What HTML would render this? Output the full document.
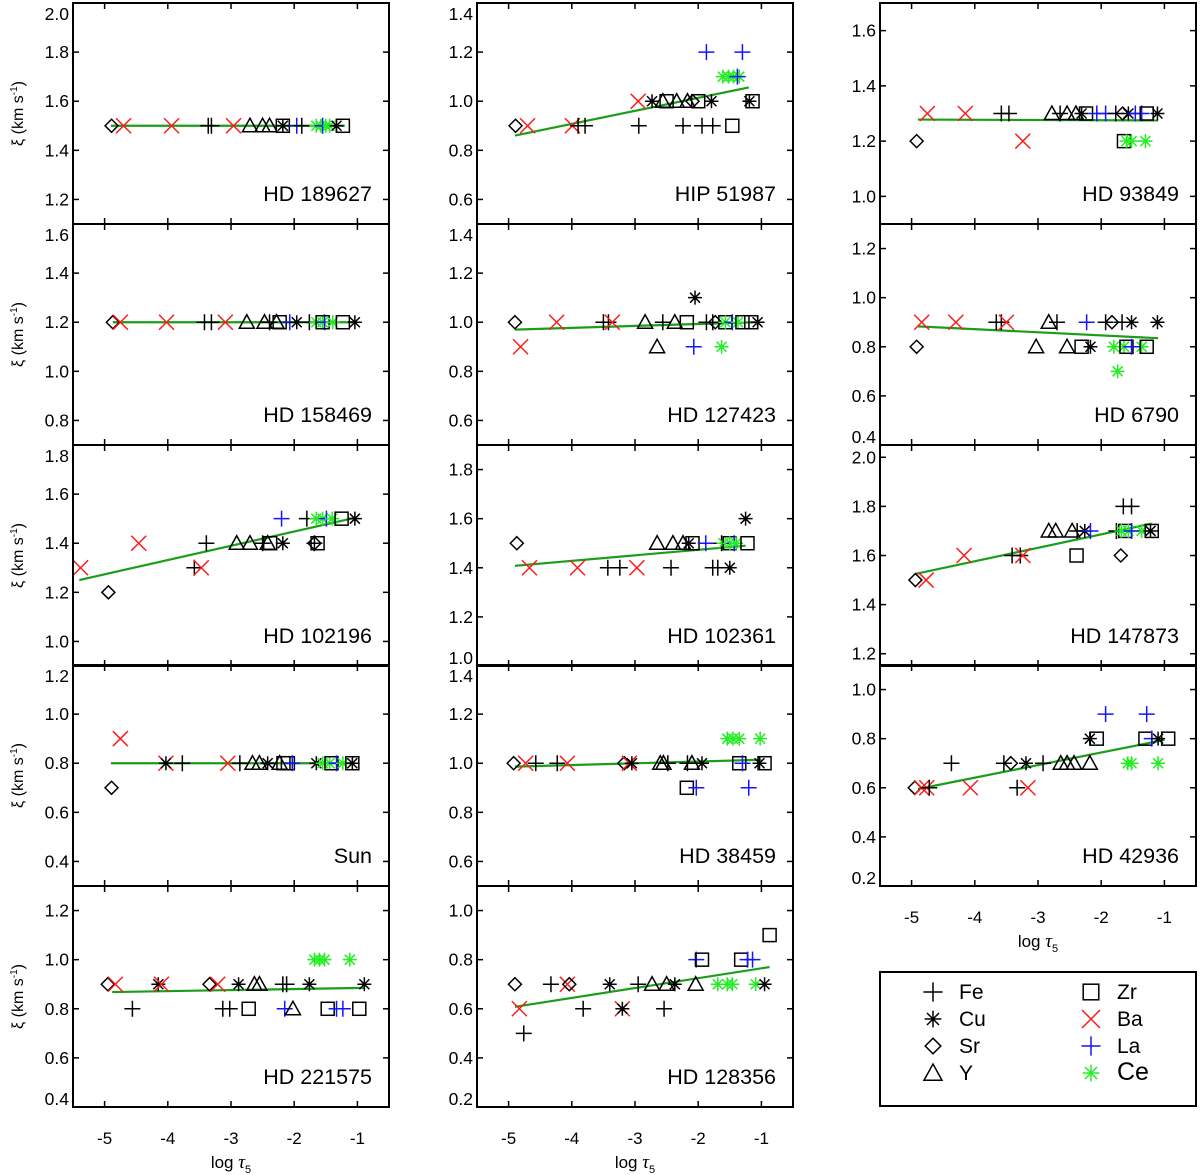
<!DOCTYPE html>
<html><head><meta charset="utf-8">
<style>
html,body{margin:0;padding:0;background:#fff;}
svg{display:block;font-family:"Liberation Sans",Arial,sans-serif;}
</style></head>
<body>
<svg id="chart" width="1200" height="1175" viewBox="0 0 1200 1175" xmlns="http://www.w3.org/2000/svg"></svg>
<script>
// ---- data (element, log tau5, xi) ----
const HD189627 = [["Sr",-4.89,1.5],["Ba",-4.7,1.5],["Ba",-3.94,1.5],["Fe",-3.36,1.5],["Fe",-3.31,1.5],["Ba",-2.96,1.5],["Y",-2.7,1.5],["Y",-2.5,1.5],["Y",-2.39,1.5],["Zr",-2.18,1.5],["Cu",-2.18,1.5],["La",-1.96,1.5],["Fe",-1.88,1.5],["Ce",-1.65,1.5],["Ce",-1.58,1.5],["Ce",-1.5,1.5],["La",-1.55,1.5],["Ce",-1.44,1.5],["Cu",-1.33,1.5],["Zr",-1.23,1.5]];
const HD158469 = [["Sr",-4.87,1.2],["Ba",-4.75,1.2],["Ba",-4.02,1.2],["Fe",-3.42,1.2],["Fe",-3.31,1.2],["Ba",-3.09,1.2],["Y",-2.75,1.2],["Y",-2.47,1.2],["Fe",-2.39,1.2],["Y",-2.28,1.2],["Zr",-2.23,1.2],["La",-2.07,1.2],["Cu",-1.96,1.2],["Fe",-1.76,1.2],["Ce",-1.65,1.2],["Ce",-1.55,1.2],["La",-1.52,1.2],["Zr",-1.55,1.2],["Ce",-1.39,1.2],["Zr",-1.23,1.2],["Cu",-1.04,1.2]];
const HD102196 = [["Ba",-5.38,1.3],["Sr",-4.94,1.2],["Ba",-4.46,1.4],["Fe",-3.58,1.3],["Ba",-3.47,1.3],["Fe",-3.39,1.4],["Y",-2.91,1.4],["Y",-2.7,1.4],["Fe",-2.5,1.4],["Y",-2.42,1.4],["Zr",-2.38,1.4],["Cu",-2.18,1.4],["La",-2.2,1.5],["Fe",-1.8,1.5],["Sr",-1.68,1.4],["Fe",-1.68,1.4],["Zr",-1.63,1.4],["Ce",-1.65,1.5],["Ce",-1.55,1.5],["La",-1.49,1.5],["Ce",-1.4,1.5],["Zr",-1.25,1.5],["Cu",-1.04,1.5]];
const SUN = [["Sr",-4.89,0.7],["Ba",-4.75,0.9],["Ba",-4.03,0.8],["Cu",-4.03,0.8],["Fe",-3.77,0.8],["Ba",-3.05,0.8],["Fe",-2.86,0.8],["Y",-2.66,0.8],["Y",-2.55,0.8],["Cu",-2.42,0.8],["Y",-2.23,0.8],["Zr",-2.17,0.8],["Zr",-2.1,0.8],["La",-2.03,0.8],["Cu",-1.65,0.8],["Ce",-1.55,0.8],["Ce",-1.44,0.8],["Zr",-1.41,0.8],["La",-1.33,0.8],["Ce",-1.23,0.8],["Zr",-1.08,0.8],["Cu",-1.08,0.8]];
const HD221575 = [["Sr",-4.95,0.9],["Ba",-4.83,0.9],["Fe",-4.56,0.8],["Cu",-4.15,0.9],["Ba",-4.1,0.9],["Sr",-3.34,0.9],["Ba",-3.21,0.9],["Fe",-3.13,0.8],["Fe",-3.02,0.8],["Cu",-2.88,0.9],["Zr",-2.72,0.8],["Y",-2.63,0.9],["Y",-2.55,0.9],["Fe",-2.18,0.9],["Fe",-2.12,0.9],["La",-2.15,0.8],["Y",-2.02,0.8],["Cu",-1.76,0.9],["Ce",-1.68,1.0],["Ce",-1.6,1.0],["Ce",-1.52,1.0],["Zr",-1.47,0.8],["La",-1.33,0.8],["La",-1.23,0.8],["Ce",-1.12,1.0],["Zr",-0.97,0.8],["Cu",-0.89,0.9]];
const HIP51987 = [["Sr",-4.89,0.9],["Ba",-4.7,0.9],["Ba",-3.99,0.9],["Fe",-3.9,0.9],["Fe",-3.79,0.9],["Ba",-2.95,1.0],["Fe",-2.94,0.9],["Cu",-2.73,1.0],["Y",-2.56,1.0],["Zr",-2.5,1.0],["Y",-2.34,1.0],["Y",-2.17,1.0],["Sr",-2.09,1.0],["Zr",-2.0,1.0],["Cu",-1.79,1.0],["Fe",-2.24,0.9],["Fe",-1.94,0.9],["Fe",-1.77,0.9],["Zr",-1.46,0.9],["La",-1.87,1.2],["La",-1.3,1.2],["Ce",-1.61,1.1],["Ce",-1.52,1.1],["Ce",-1.44,1.1],["Ce",-1.35,1.1],["La",-1.38,1.1],["Zr",-1.14,1.0],["Cu",-1.19,1.0]];
const HD127423 = [["Sr",-4.9,1.0],["Ba",-4.81,0.9],["Ba",-4.24,1.0],["Fe",-3.5,1.0],["Fe",-3.42,1.0],["Ba",-3.36,1.0],["Y",-2.84,1.0],["Y",-2.65,0.9],["Fe",-2.56,1.0],["Y",-2.37,1.0],["Zr",-2.18,1.0],["Cu",-2.05,1.1],["La",-2.07,0.9],["Fe",-1.87,1.0],["Fe",-1.77,1.0],["Sr",-1.73,1.0],["Zr",-1.57,1.0],["Ce",-1.63,0.9],["Ce",-1.57,1.0],["La",-1.46,1.0],["Ce",-1.37,1.0],["Zr",-1.3,1.0],["Zr",-1.16,1.0],["Cu",-1.06,1.0]];
const HD102361 = [["Sr",-4.87,1.5],["Ba",-4.67,1.4],["Ba",-3.91,1.4],["Fe",-3.43,1.4],["Fe",-3.24,1.4],["Ba",-2.97,1.4],["Fe",-2.43,1.4],["Y",-2.65,1.5],["Y",-2.4,1.5],["Y",-2.24,1.5],["Cu",-2.15,1.5],["Zr",-2.09,1.5],["La",-1.88,1.5],["Fe",-1.77,1.4],["Fe",-1.69,1.4],["Cu",-1.5,1.4],["Fe",-1.63,1.5],["Ce",-1.6,1.5],["Zr",-1.5,1.5],["Ce",-1.5,1.5],["La",-1.43,1.5],["Ce",-1.4,1.5],["Zr",-1.22,1.5],["Cu",-1.25,1.6]];
const HD38459 = [["Sr",-4.92,1.0],["Ba",-4.73,1.0],["Fe",-4.57,1.0],["Fe",-4.23,1.0],["Ba",-4.07,1.0],["Sr",-3.17,1.0],["Ba",-3.09,1.0],["Cu",-3.05,1.0],["Y",-2.6,1.0],["Y",-2.55,1.0],["Fe",-2.48,1.0],["Fe",-2.17,1.0],["Y",-2.1,1.0],["Cu",-1.94,1.0],["Zr",-2.18,0.9],["La",-2.03,0.9],["Ce",-1.54,1.1],["Ce",-1.45,1.1],["Ce",-1.35,1.1],["Ce",-1.02,1.1],["Zr",-1.35,1.0],["La",-1.3,1.0],["La",-1.2,0.9],["Zr",-0.95,1.0],["Cu",-1.03,1.0]];
const HD128356 = [["Sr",-4.9,0.7],["Ba",-4.83,0.6],["Fe",-4.76,0.5],["Fe",-4.33,0.7],["Ba",-4.07,0.7],["Sr",-4.04,0.7],["Fe",-3.82,0.6],["Cu",-3.4,0.7],["Ba",-3.2,0.6],["Cu",-3.2,0.6],["Fe",-2.95,0.7],["Y",-2.73,0.7],["Fe",-2.54,0.6],["Y",-2.5,0.7],["Cu",-2.37,0.7],["Y",-2.04,0.7],["La",-2.03,0.8],["Zr",-1.94,0.8],["Ce",-1.69,0.7],["Ce",-1.54,0.7],["Ce",-1.46,0.7],["Zr",-1.32,0.8],["La",-1.22,0.8],["La",-1.14,0.8],["Ce",-1.09,0.7],["Cu",-0.95,0.7],["Zr",-0.87,0.9]];
const HD93849 = [["Sr",-4.92,1.2],["Ba",-4.75,1.3],["Ba",-4.15,1.3],["Fe",-3.58,1.3],["Fe",-3.46,1.3],["Ba",-3.24,1.2],["Y",-2.78,1.3],["Fe",-2.65,1.3],["Y",-2.54,1.3],["Y",-2.4,1.3],["Cu",-2.31,1.3],["Zr",-2.24,1.3],["La",-2.07,1.3],["La",-1.93,1.3],["Fe",-1.77,1.3],["Sr",-1.66,1.3],["Cu",-1.57,1.3],["La",-1.46,1.3],["La",-1.36,1.3],["Zr",-1.28,1.3],["Cu",-1.11,1.3],["Zr",-1.64,1.2],["Ce",-1.6,1.2],["Ce",-1.52,1.2],["Ce",-1.3,1.2]];
const HD6790 = [["Ba",-4.84,0.9],["Ba",-4.3,0.9],["Sr",-4.92,0.8],["Fe",-3.66,0.9],["Fe",-3.58,0.9],["Ba",-3.5,0.9],["Y",-3.03,0.8],["Y",-2.83,0.9],["Fe",-2.7,0.9],["Y",-2.54,0.8],["Zr",-2.31,0.8],["Cu",-2.17,0.8],["La",-2.23,0.9],["Fe",-1.93,0.9],["Sr",-1.83,0.9],["Fe",-1.67,0.9],["Cu",-1.52,0.9],["Cu",-1.11,0.9],["Ce",-1.8,0.8],["Ce",-1.64,0.8],["Ce",-1.36,0.8],["Ce",-1.74,0.7],["Zr",-1.6,0.8],["Zr",-1.28,0.8],["La",-1.52,0.8]];
const HD147873 = [["Sr",-4.94,1.5],["Ba",-4.77,1.5],["Ba",-4.17,1.6],["Fe",-3.41,1.6],["Fe",-3.28,1.6],["Ba",-3.24,1.6],["Y",-2.83,1.7],["Y",-2.72,1.7],["Y",-2.46,1.7],["Fe",-2.38,1.7],["Cu",-2.26,1.7],["La",-2.17,1.7],["Zr",-2.39,1.6],["Fe",-1.65,1.8],["Fe",-1.52,1.8],["Fe",-1.76,1.7],["Zr",-1.62,1.7],["Ce",-1.68,1.7],["Ce",-1.57,1.7],["Ce",-1.36,1.7],["La",-1.52,1.7],["Sr",-1.69,1.6],["Zr",-1.2,1.7],["Cu",-1.22,1.7]];
const HD42936 = [["Sr",-4.95,0.6],["Ba",-4.84,0.6],["Ba",-4.76,0.6],["Fe",-4.72,0.6],["Fe",-4.37,0.7],["Ba",-4.07,0.6],["Fe",-3.54,0.7],["Sr",-3.43,0.7],["Cu",-3.19,0.7],["Fe",-3.33,0.6],["Ba",-3.16,0.6],["Fe",-2.92,0.7],["Y",-2.64,0.7],["Y",-2.54,0.7],["Y",-2.43,0.7],["Y",-2.18,0.7],["Cu",-2.18,0.8],["Zr",-2.07,0.8],["La",-1.93,0.9],["La",-1.28,0.9],["Zr",-1.3,0.8],["La",-1.2,0.8],["Cu",-1.1,0.8],["Zr",-0.94,0.8],["Ce",-1.58,0.7],["Ce",-1.52,0.7],["Ce",-1.1,0.7]];

// fit lines: [x0, y0, x1, y1]
const FITS = {
 HD189627:[-4.9,1.5,-1.2,1.5], HD158469:[-4.87,1.2,-1.04,1.2], HD102196:[-5.4,1.25,-1.05,1.503],
 SUN:[-4.9,0.8,-1.08,0.8], HD221575:[-4.88,0.868,-0.9,0.885],
 HIP51987:[-4.9,0.86,-1.2,1.056], HD127423:[-4.9,0.97,-1.1,1.0], HD102361:[-4.9,1.408,-1.25,1.49],
 HD38459:[-4.9,0.986,-1.0,1.014], HD128356:[-4.9,0.608,-0.87,0.77],
 HD93849:[-4.9,1.278,-1.1,1.275], HD6790:[-4.9,0.883,-1.1,0.835], HD147873:[-4.94,1.525,-1.2,1.73], HD42936:[-4.9,0.595,-1.0,0.795]
};

// panel list: [label, key, col, row, ymin, ymax, ticks]
const PANELS = [
 ["HD 189627","HD189627",0,0,1.1,2.0,[1.2,1.4,1.6,1.8,2.0]],
 ["HD 158469","HD158469",0,1,0.7,1.6,[0.8,1.0,1.2,1.4,1.6]],
 ["HD 102196","HD102196",0,2,0.9,1.8,[1.0,1.2,1.4,1.6,1.8]],
 ["Sun","SUN",0,3,0.3,1.2,[0.4,0.6,0.8,1.0,1.2]],
 ["HD 221575","HD221575",0,4,0.4,1.3,[0.4,0.6,0.8,1.0,1.2]],
 ["HIP 51987","HIP51987",1,0,0.5,1.4,[0.6,0.8,1.0,1.2,1.4]],
 ["HD 127423","HD127423",1,1,0.5,1.4,[0.6,0.8,1.0,1.2,1.4]],
 ["HD 102361","HD102361",1,2,1.0,1.9,[1.0,1.2,1.4,1.6,1.8]],
 ["HD 38459","HD38459",1,3,0.5,1.4,[0.6,0.8,1.0,1.2,1.4]],
 ["HD 128356","HD128356",1,4,0.2,1.1,[0.2,0.4,0.6,0.8,1.0]],
 ["HD 93849","HD93849",2,0,0.9,1.7,[1.0,1.2,1.4,1.6]],
 ["HD 6790","HD6790",2,1,0.4,1.3,[0.4,0.6,0.8,1.0,1.2]],
 ["HD 147873","HD147873",2,2,1.15,2.05,[1.2,1.4,1.6,1.8,2.0]],
 ["HD 42936","HD42936",2,3,0.2,1.1,[0.2,0.4,0.6,0.8,1.0]]
];
const DATA = {HD189627,HD158469,HD102196,SUN,HD221575,HIP51987,HD127423,HD102361,HD38459,HD128356,HD93849,HD6790,HD147873,HD42936};
const XTICKS = [-5,-4,-3,-2,-1];
const XMIN = -5.5, XMAX = -0.5;

const COL_LEFT = [73, 477, 880];
const PW = 316;
const ROW_TOP = [3, 224, 445, 665, 886];
const PH = 221;
const NS = "http://www.w3.org/2000/svg";
const svg = document.getElementById('chart');
const COLOR = {Fe:"#000",Cu:"#000",Sr:"#000",Y:"#000",Zr:"#000",Ba:"#ff1a1a",La:"#1414ff",Ce:"#22ee22"};

function mk(tag, attrs, parent){
  const e = document.createElementNS(NS, tag);
  for (const k in attrs) e.setAttribute(k, attrs[k]);
  (parent||svg).appendChild(e);
  return e;
}
function marker(el, cx, cy, parent, s){
  s = s || 1;
  const c = COLOR[el];
  const g = mk('g', {stroke:c, fill:'none', 'stroke-width':1.5}, parent);
  if (el==="Fe"||el==="La"){
    const h=8*s;
    mk('path',{d:`M${cx-h} ${cy}H${cx+h}M${cx} ${cy-h}V${cy+h}`},g);
  } else if (el==="Ba"){
    const h=7.5*s;
    mk('path',{d:`M${cx-h} ${cy-h}L${cx+h} ${cy+h}M${cx-h} ${cy+h}L${cx+h} ${cy-h}`},g);
  } else if (el==="Cu"||el==="Ce"){
    const h=7*s, d=5*s;
    mk('path',{d:`M${cx-h} ${cy}H${cx+h}M${cx} ${cy-h}V${cy+h}M${cx-d} ${cy-d}L${cx+d} ${cy+d}M${cx-d} ${cy+d}L${cx+d} ${cy-d}`},g);
  } else if (el==="Sr"){
    const h=6.5*s;
    mk('path',{d:`M${cx-h} ${cy}L${cx} ${cy-h}L${cx+h} ${cy}L${cx} ${cy+h}Z`},g);
  } else if (el==="Y"){
    const h=7.5*s;
    mk('path',{d:`M${cx-h} ${cy+6*s}L${cx} ${cy-7.5*s}L${cx+h} ${cy+6*s}Z`},g);
  } else if (el==="Zr"){
    const h=6.5*s;
    mk('rect',{x:cx-h,y:cy-h,width:2*h,height:2*h},g);
  }
  return g;
}

PANELS.forEach(p=>{
  const [label,key,col,row,ymin,ymax,ticks] = p;
  const L = COL_LEFT[col], T = ROW_TOP[row], R = L+PW, B = T+PH;
  const sx = x => L + (x-XMIN)/(XMAX-XMIN)*PW;
  const sy = y => B - (y-ymin)/(ymax-ymin)*PH;
  const g = mk('g',{});
  
  
  const tk = mk('g',{stroke:'#000','stroke-width':1.5}, g);
  
  
  XTICKS.forEach(t=>{
    const x = sx(t);
    mk('line',{x1:x,y1:T,x2:x,y2:T+6},tk);
    mk('line',{x1:x,y1:B,x2:x,y2:B-6},tk);
  });
  ticks.forEach(t=>{
    const y = sy(t);
    mk('line',{x1:L,y1:y,x2:L+6,y2:y},tk);
    mk('line',{x1:R,y1:y,x2:R-6,y2:y},tk);
    const ly = Math.max(T+11, Math.min(B-8, y));
    const tl = mk('text',{x:L-4,y:ly+6,'text-anchor':'end','font-size':17.5,fill:'#000'}, g);
    
    
    tl.textContent = t.toFixed(1);
  });
  const f = FITS[key];
  const fl = mk('line',{x1:sx(f[0]),y1:sy(f[1]),x2:sx(f[2]),y2:sy(f[3]),stroke:'#1a9e1a','stroke-width':2.2}, g);
  
  
  DATA[key].forEach(d=>{
    const m = marker(d[0], sx(d[1]), sy(d[2]), g);
    
    
  });
  const fr = mk('rect',{x:L,y:T,width:PW,height:PH,fill:'none',stroke:'#000','stroke-width':2}, g);
  
  
  const nm = mk('text',{x:R-17,y:B-23,'text-anchor':'end','font-size':21.5,fill:'#000'}, g);
  
  
  nm.textContent = label;
  if (col===0){
    const cy = T+PH/2;
    const yt = mk('text',{x:0,y:0,transform:`translate(23 ${cy}) rotate(-90)`,'text-anchor':'middle','font-size':16,fill:'#000'}, g);
    
    
    yt.innerHTML = 'ξ (km s<tspan dy="-6" font-size="10">-1</tspan><tspan dy="6">)</tspan>';
  }
});

[[0,1107],[1,1107],[2,886]].forEach(([col,B])=>{
  const L = COL_LEFT[col];
  const sx = x => L + (x-XMIN)/(XMAX-XMIN)*PW;
  XTICKS.forEach(t=>{
    const tl = mk('text',{x:sx(t),y:B+37,'text-anchor':'middle','font-size':17,fill:'#000'});
    
    
    tl.textContent = String(t);
  });
  const xt = mk('text',{x:L+PW/2,y:B+61,'text-anchor':'middle','font-size':17,fill:'#000'});
  
  
  xt.innerHTML = 'log <tspan font-family="Liberation Serif" font-style="italic" font-size="19">τ</tspan><tspan dy="5" font-size="11">5</tspan>';
});

const LEG_L = ["Fe","Cu","Sr","Y"], LEG_R = ["Zr","Ba","La","Ce"];
const lg = mk('g',{});


mk('rect',{x:880,y:972,width:316,height:134,fill:'none',stroke:'#000','stroke-width':2}, lg);
[LEG_L, LEG_R].forEach((arr,ci)=>{
  const mx = ci ? 1091 : 933, tx = ci ? 1117 : 959;
  arr.forEach((el,i)=>{
    const y = 992 + i*27;
    const ent = mk('g',{}, lg);
    
    
    marker(el, mx, y, ent, 1.2);
    const t = mk('text',{x:tx,y:y+7,'font-size':el==="Ce"?25:21,fill:'#000'}, ent);
    t.textContent = el;
  });
});
</script>
</body></html>
